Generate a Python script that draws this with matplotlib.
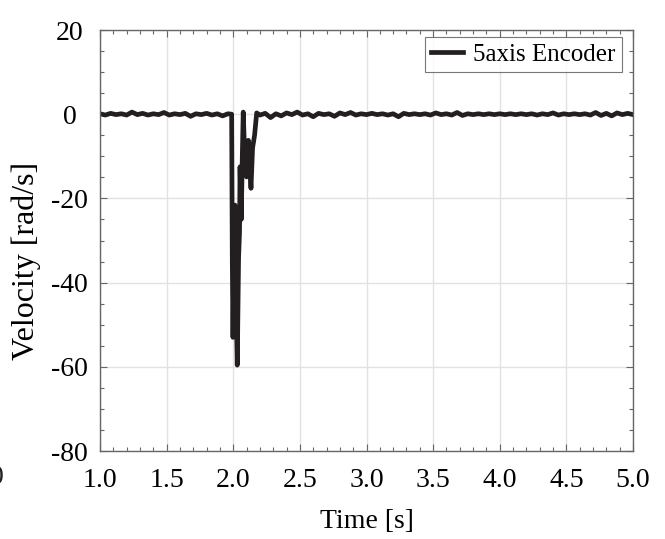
import matplotlib.pyplot as plt
from matplotlib.ticker import MultipleLocator
import numpy as np

# Velocity trace [rad/s]
pre_time = np.arange(1.0, 1.985, 0.04)
pre_vel = [0.1, -0.2, 0.2, -0.1, 0.1, -0.2, 0.5, -0.1, 0.2, -0.2, 0.1, -0.1,
           0.4, -0.2, 0.1, -0.1, 0.2, -0.5, 0.1, -0.1, 0.2, -0.2, 0.1, -0.4, 0.1]

spike_time = [1.988, 1.993, 1.998, 2.006, 2.013, 2.021, 2.030, 2.040, 2.047,
              2.051, 2.060, 2.068, 2.075, 2.085, 2.100, 2.113, 2.125, 2.133,
              2.145, 2.160, 2.176]
spike_vel = [0.0, -35.0, -53.0, -30.0, -21.6, -45.0, -59.6, -34.0, -28.0,
             -12.5, -25.0, -10.0, 0.5, -9.0, -14.9, -6.2, -13.0, -17.6,
             -8.0, -5.0, 0.3]

post_time = np.arange(2.20, 5.001, 0.04)
post_vel = [-0.2, 0.2, -0.8, 0.1, -0.4, 0.3, -0.1, 0.5, -0.2, 0.1, -0.6, 0.2,
            -0.1, 0.1, -0.5, 0.3, -0.1, 0.4, -0.2, 0.1, -0.1, 0.2, -0.1, 0.1,
            -0.2, 0.1, -0.6, 0.2, -0.1, 0.1, -0.1, 0.1, -0.2, 0.3, -0.1, 0.1,
            -0.2, 0.4, -0.3, 0.1, -0.1, 0.1, -0.1, 0.1, -0.1, 0.1, -0.1, 0.1,
            -0.1, 0.1, -0.1, 0.1, -0.2, 0.1, -0.1, 0.3, -0.2, 0.1, -0.1, 0.1,
            -0.1, 0.1, -0.2, 0.4, -0.3, 0.2, -0.4, 0.3, -0.1, 0.2, -0.1]

time = np.concatenate([pre_time, spike_time, post_time[:len(post_vel)]])
vel = np.concatenate([pre_vel, spike_vel, post_vel])

plt.rcParams['font.family'] = ['Liberation Serif', 'DejaVu Serif']

fig = plt.figure(figsize=(6.65, 5.39), dpi=100)
ax = fig.add_axes([100 / 665, 1 - 451 / 539, 533 / 665, 421 / 539])

ax.plot(time, vel, color='#231f20', lw=3.4, label='5axis Encoder')

ax.set_xlim(1.0, 5.0)
ax.set_ylim(-80, 20)
ax.xaxis.set_major_locator(MultipleLocator(0.5))
ax.xaxis.set_minor_locator(MultipleLocator(0.1))
ax.yaxis.set_major_locator(MultipleLocator(20))
ax.yaxis.set_minor_locator(MultipleLocator(5))
ax.set_xticklabels([f'{v:.1f}' for v in ax.get_xticks()])
ax.set_yticklabels([f'{v:.0f}' for v in ax.get_yticks()])
for lab in ax.get_yticklabels():
    lab.set_horizontalalignment('center')

ax.grid(True, which='major', color='#e2e2e2', lw=1.0)
ax.set_axisbelow(True)
ax.tick_params(which='both', direction='in', top=True, right=True,
               color='#666666', labelsize=20)
ax.tick_params(axis='x', pad=12)
ax.tick_params(axis='y', pad=22)
ax.tick_params(which='major', length=5, width=0.8)
ax.tick_params(which='minor', length=3, width=0.8)
for s in ax.spines.values():
    s.set_color('#666666')
    s.set_linewidth(1.0)

ax.set_xlabel('Time [s]', fontsize=20, labelpad=12)
ax.set_ylabel('Velocity [rad/s]', fontsize=23)
ax.yaxis.set_label_coords(-0.11, 0.451)

leg = ax.legend(loc='upper right', bbox_to_anchor=(0.9794, 0.9834),
                fontsize=18, frameon=True, fancybox=False,
                handlelength=1.3, handletextpad=0.4, borderpad=0.25,
                borderaxespad=0.0)
leg.get_frame().set_edgecolor('#555555')
leg.get_frame().set_linewidth(0.8)

# cut-off tick label at the left edge of the original image
fig.text(-0.004, 1 - 478 / 539, '0', fontsize=20, ha='center', va='center',
         color='#231f20')

fig.savefig('out.png', dpi=100)
